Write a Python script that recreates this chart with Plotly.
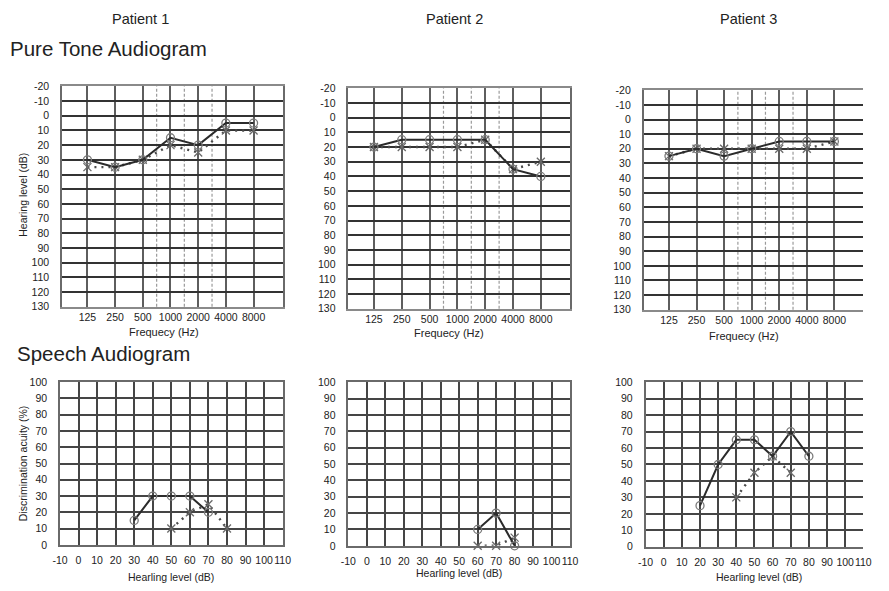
import plotly.graph_objects as go

# ---- data -------------------------------------------------------------
freq_labels = ["125", "250", "500", "1000", "2000", "4000", "8000"]
freq_pos = [0, 1, 2, 3, 4, 5, 6]          # one octave per step
mid_freq_pos = [2.5, 3.5, 4.5]            # 750 / 1500 / 3000 Hz guide lines

pt_right = {  # "O" (solid line)
    1: [30, 35, 30, 15, 20, 5, 5],
    2: [20, 15, 15, 15, 15, 35, 40],
    3: [25, 20, 25, 20, 15, 15, 15],
}
pt_left = {   # "X" (dotted line)
    1: [35, 35, 30, 20, 25, 10, 10],
    2: [20, 20, 20, 20, 15, 35, 30],
    3: [25, 20, 20, 20, 20, 20, 15],
}

sp_right_x = {1: [30, 40, 50, 60, 70], 2: [60, 70, 80], 3: [20, 30, 40, 50, 60, 70, 80]}
sp_right_y = {1: [15, 30, 30, 30, 20], 2: [10, 20, 0], 3: [25, 50, 65, 65, 55, 70, 55]}
sp_left_x = {1: [50, 60, 70, 80], 2: [60, 70, 80], 3: [40, 50, 60, 70]}
sp_left_y = {1: [10, 20, 25, 10], 2: [0, 0, 5], 3: [30, 45, 55, 45]}

pt_yticks = list(range(-20, 131, 10))
sp_xticks = list(range(-10, 111, 10))
sp_yticks = list(range(0, 101, 10))

# ---- layout geometry (pixels) ----------------------------------------
W, H = 889, 591
FONT = "Liberation Sans, Arial, sans-serif"

pt_boxes = {1: (55, 280, 82, 307), 2: (347, 573, 84, 309), 3: (648, 872, 86, 310)}
sp_boxes = {1: (53, 280, 384, 550), 2: (347, 573, 384, 551), 3: (650, 872, 384, 552)}


def xdom(l, r):
    return [l / W, r / W]


def ydom(t, b):
    return [1 - b / H, 1 - t / H]


def labels(vals):
    # plain hyphen for negatives
    return [str(v) for v in vals]


fig = go.Figure()
layout = dict(
    width=W, height=H, margin=dict(l=0, r=0, t=0, b=0),
    paper_bgcolor="white", plot_bgcolor="white", showlegend=False,
    font=dict(family=FONT, size=10.5, color="#222"),
)
shapes = []
annotations = []

solid_line = dict(color="#2b2b2b", width=2)
dot_line = dict(color="#4a4a4a", width=2.4, dash="2px,5px")
o_marker = dict(symbol="circle-open", size=8, color="#7a7a7a", line=dict(width=1.3))
x_marker = dict(symbol="x-thin-open", size=8, color="#6a6a6a", line=dict(width=1.3))

ax_i = 0
# pure tone audiograms
for p in (1, 2, 3):
    ax_i += 1
    xa = "xaxis" if ax_i == 1 else f"xaxis{ax_i}"
    ya = "yaxis" if ax_i == 1 else f"yaxis{ax_i}"
    xr = "x" if ax_i == 1 else f"x{ax_i}"
    yr = "y" if ax_i == 1 else f"y{ax_i}"
    l, r, t, b = pt_boxes[p]
    layout[xa] = dict(
        domain=xdom(l, r), anchor=yr, range=[-0.92, 7.05],
        tickmode="array", tickvals=freq_pos, ticktext=freq_labels, tickangle=0,
        showgrid=True, gridcolor="#5e5e5e", gridwidth=2,
        showline=True, linecolor="#8a8a8a", linewidth=1.5, mirror=True,
        ticks="", ticklabelstandoff=0, zeroline=False, fixedrange=True,
    )
    layout[ya] = dict(
        domain=ydom(t, b), anchor=xr, range=[130, -20],
        tickmode="array", tickvals=pt_yticks, ticktext=labels(pt_yticks),
        showgrid=True, gridcolor="#333333", gridwidth=1.8,
        showline=True, linecolor="#6a6a6a", linewidth=1.5, mirror=(p != 3),
        ticks="", ticklabelstandoff=9, zeroline=False, fixedrange=True,
    )
    for mx in mid_freq_pos:
        shapes.append(dict(type="line", xref=xr, yref=f"{yr} domain", x0=mx, x1=mx,
                           y0=0, y1=1, line=dict(color="#9a9a9a", width=1.2, dash="3px,2px"),
                           layer="below"))
    fig.add_trace(go.Scatter(x=freq_pos, y=pt_left[p], mode="lines+markers",
                             line=dot_line, marker=x_marker, xaxis=xr, yaxis=yr))
    fig.add_trace(go.Scatter(x=freq_pos, y=pt_right[p], mode="lines+markers",
                             line=solid_line, marker=o_marker, xaxis=xr, yaxis=yr))

# speech audiograms
for p in (1, 2, 3):
    ax_i += 1
    xa, ya = f"xaxis{ax_i}", f"yaxis{ax_i}"
    xr, yr = f"x{ax_i}", f"y{ax_i}"
    l, r, t, b = sp_boxes[p]
    layout[xa] = dict(
        domain=xdom(l, r), anchor=yr, range=[-10, 110],
        tickmode="array", tickvals=sp_xticks, ticktext=labels(sp_xticks), tickangle=0,
        tickfont=dict(size=10.5),
        showgrid=True, gridcolor="#454545", gridwidth=1.6,
        showline=True, linecolor="#6a6a6a", linewidth=1.5, mirror=True,
        ticks="", ticklabelstandoff=5, zeroline=False, fixedrange=True,
    )
    layout[ya] = dict(
        domain=ydom(t, b), anchor=xr, range=[0, 100],
        tickmode="array", tickvals=sp_yticks, ticktext=labels(sp_yticks),
        showgrid=True, gridcolor="#454545", gridwidth=1.6,
        showline=True, linecolor="#6a6a6a", linewidth=1.5, mirror=(p != 3),
        ticks="", ticklabelstandoff=9, zeroline=False, fixedrange=True,
    )
    fig.add_trace(go.Scatter(x=sp_left_x[p], y=sp_left_y[p], mode="lines+markers",
                             line=dot_line, marker=x_marker, xaxis=xr, yaxis=yr,
                             cliponaxis=False))
    fig.add_trace(go.Scatter(x=sp_right_x[p], y=sp_right_y[p], mode="lines+markers",
                             line=solid_line, marker=o_marker, xaxis=xr, yaxis=yr,
                             cliponaxis=False))


def text(s, x, y, size=10.5, xanchor="center", angle=0):
    annotations.append(dict(text=s, x=x / W, y=1 - y / H, xref="paper", yref="paper",
                            xanchor=xanchor, yanchor="middle", showarrow=False,
                            textangle=angle, font=dict(family=FONT, size=size, color="#222")))


text("Patient 1", 135, 13, size=14.5)
text("Patient 2", 455, 13, size=14.5)
text("Patient 3", 755, 13, size=14.5)
text("Pure Tone Audiogram", 0, 43, size=20.5, xanchor="left")
text("Speech Audiogram", 7, 355, size=20.5, xanchor="left")
text("Hearing level (dB)", 15, 193, angle=-90)
text("Discrimination acuity (%)", 15, 467, angle=-90)
text("Frequecy (Hz)", 159, 333, size=11)
text("Frequecy (Hz)", 450, 334, size=11)
text("Frequecy (Hz)", 750, 337, size=11)
text("Hearling level (dB)", 166, 583)
text("Hearling level (dB)", 460, 579)
text("Hearling level (dB)", 766, 583)

layout["shapes"] = shapes
layout["annotations"] = annotations
fig.update_layout(**layout)
fig.write_html("out.html")
